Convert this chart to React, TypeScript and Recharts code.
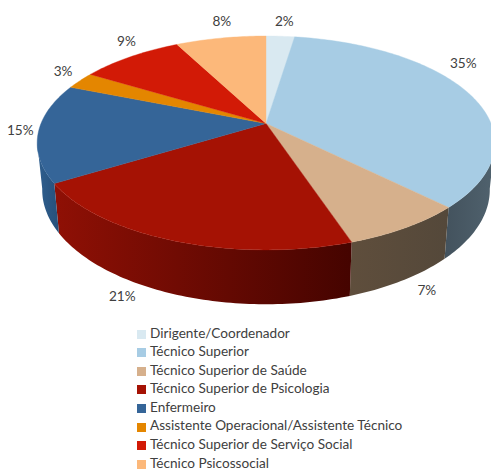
import { Legend, Pie, PieChart } from "recharts";

const categories = [
  "Dirigente/Coordenador",
  "Técnico Superior",
  "Técnico Superior de Saúde",
  "Técnico Superior de Psicologia",
  "Enfermeiro",
  "Assistente Operacional/Assistente Técnico",
  "Técnico Superior de Serviço Social",
  "Técnico Psicossocial",
];
const shares = [2.4, 35.1, 7.4, 21.3, 14.9, 2.6, 8.7, 7.6];
const topColors = ["#d9e9f1", "#a7cce4", "#d6b08c", "#a51204", "#356598", "#e48600", "#d21a06", "#fcb87a"];
const wallLeft = ["#6d7c84", "#43525d", "#5f4e3c", "#8f1005", "#2f5f8f", "#7a4800", "#701004", "#86623f"];
const wallRight = ["#6d7c84", "#50626e", "#54483a", "#450400", "#27507a", "#7a4800", "#701004", "#86623f"];
// nudges from the rim to where each percentage sits
const labelNudge = [[4, -15], [-5, -30], [21, 62], [-51, 55], [-18, -2], [-17, -10], [-4, -16], [1, -17]];

const tableTop = categories.map((name, i) => ({ name, value: shares[i], fill: topColors[i] }));
const tableWall = categories.map((name, i) => ({ name, value: shares[i], fill: `url(#wall${i})` }));

const W = 491;
const H = 472;
const CX = 266;
const CY = 123.5;
const FONT = "Lato, sans-serif";
const TEXT = "#404040";

// tilted disc seen in perspective
const RX = 225;
const RY = 103.4;
const TILT = 0.182;
const DEPTH = 45.5;
const BOTTOM_SX = 0.978;
const BOTTOM_SY = 1.07;
// only this part of the side faces the viewer
const FRONT_FROM = -10;
const FRONT_TO = -170;

function rim(deg: number) {
  const a = (deg * Math.PI) / 180;
  const w = 1 + TILT * Math.sin(a);
  return { x: (RX * Math.cos(a)) / w, y: (-RY * Math.sin(a)) / w };
}

function arc(start: number, end: number) {
  const n = Math.max(2, Math.ceil(Math.abs(end - start)));
  return Array.from({ length: n + 1 }, (_, i) => rim(start + ((end - start) * i) / n));
}

function TopSlice(props: any) {
  const pts = arc(props.startAngle, props.endAngle).map((p) => `${CX + p.x},${CY + p.y}`);
  return <path d={`M${CX},${CY}L${pts.join("L")}Z`} fill={props.fill} stroke={props.fill} strokeWidth={0.4} />;
}

function WallSlice(props: any) {
  const start = Math.min(props.startAngle, FRONT_FROM);
  const end = Math.max(props.endAngle, FRONT_TO);
  if (start <= end) return null;
  const pts = arc(start, end);
  const upper = pts.map((p) => `${CX + p.x},${CY + p.y}`);
  const lower = pts
    .slice()
    .reverse()
    .map((p) => `${CX + p.x * BOTTOM_SX},${CY + DEPTH + p.y * BOTTOM_SY}`);
  return <path d={`M${upper.join("L")}L${lower.join("L")}Z`} fill={props.fill} />;
}

function renderLabel(props: any) {
  const p = rim(props.midAngle);
  const [dx, dy] = labelNudge[props.index];
  return (
    <text
      x={CX + p.x + dx}
      y={CY + p.y + dy}
      textAnchor="middle"
      dominantBaseline="central"
      fontFamily={FONT}
      fontSize={13.6}
      fill={TEXT}
    >
      {Math.round(props.value)}%
    </text>
  );
}

export default function App() {
  return (
    <div style={{ width: W, height: H }}>
      <style>{"body{margin:0}"}</style>
      <PieChart width={W} height={H} margin={{ top: 0, right: 0, bottom: 0, left: 0 }}>
        <defs>
          {categories.map((c, i) => (
            <linearGradient key={c} id={`wall${i}`} x1="0" y1="0" x2="1" y2="0">
              <stop offset="0%" stopColor={wallLeft[i]} />
              <stop offset="100%" stopColor={wallRight[i]} />
            </linearGradient>
          ))}
        </defs>
        <Pie
          data={tableWall}
          dataKey="value"
          nameKey="name"
          cx={CX}
          cy={CY}
          outerRadius={100}
          startAngle={90}
          endAngle={-270}
          stroke="none"
          legendType="none"
          shape={WallSlice}
          isAnimationActive={false}
        />
        <Pie
          data={tableTop}
          dataKey="value"
          nameKey="name"
          cx={CX}
          cy={CY}
          outerRadius={100}
          startAngle={90}
          endAngle={-270}
          stroke="none"
          shape={TopSlice}
          label={renderLabel}
          labelLine={false}
          isAnimationActive={false}
        />
        <Legend
          layout="vertical"
          align="left"
          verticalAlign="top"
          iconType="square"
          iconSize={9}
          itemSorter={null}
          formatter={(value: string) => <span style={{ color: TEXT }}>{value}</span>}
          wrapperStyle={{
            position: "absolute",
            left: 137,
            top: 323.5,
            width: 340,
            fontFamily: FONT,
            fontSize: 13.6,
            lineHeight: "18.6px",
          }}
        />
      </PieChart>
    </div>
  );
}
